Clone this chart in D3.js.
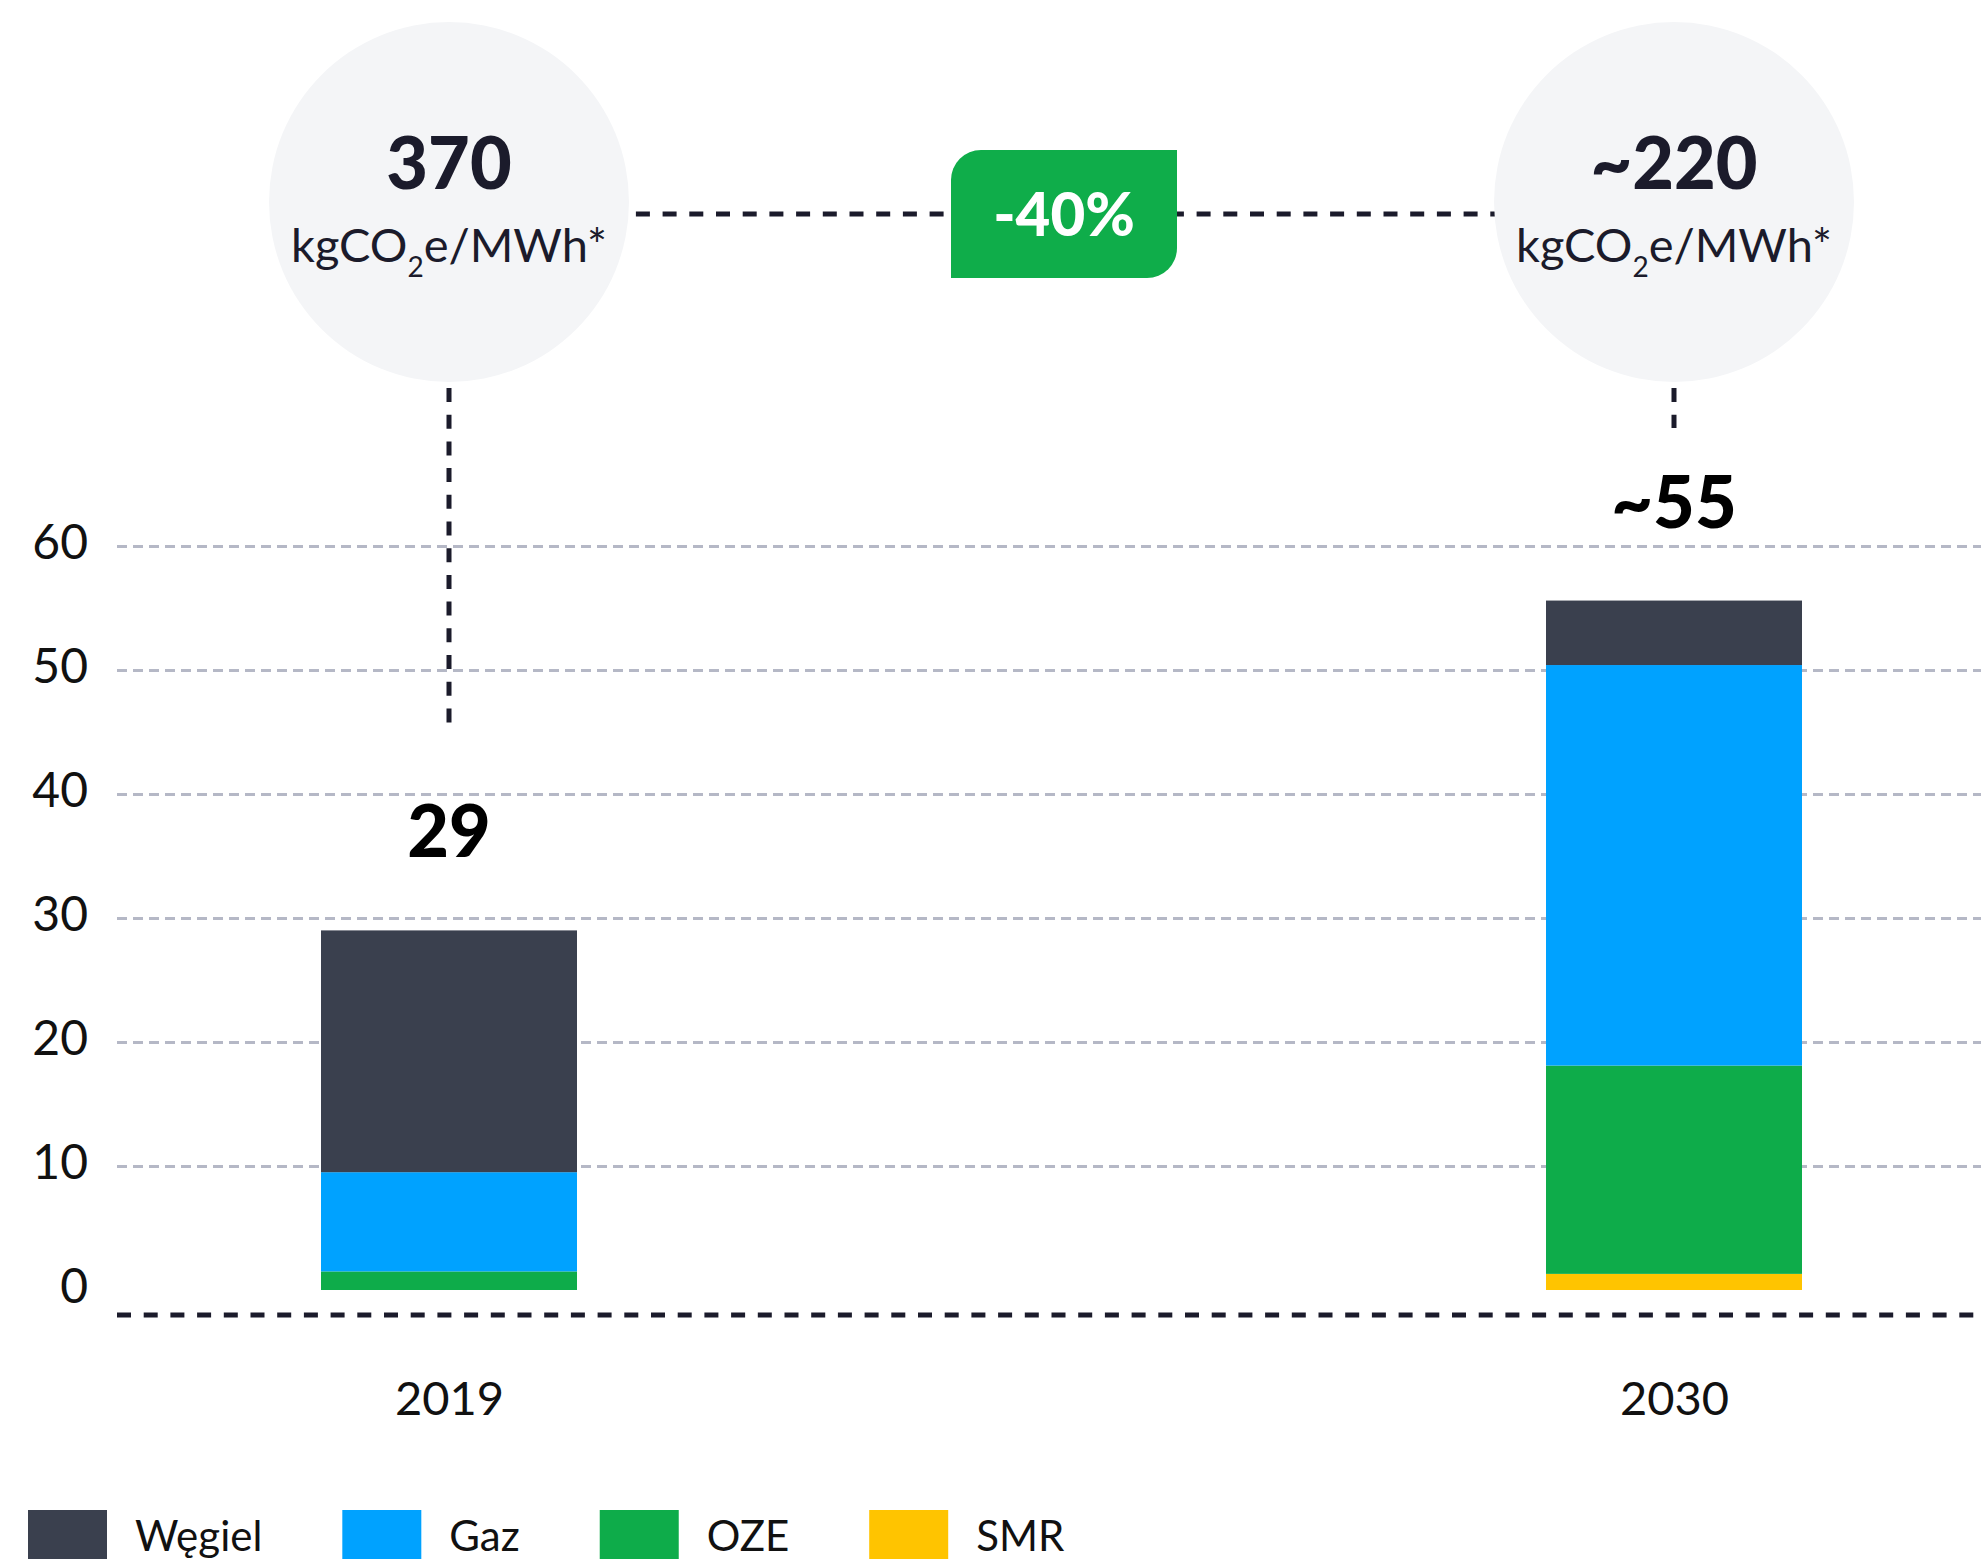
<!DOCTYPE html>
<html lang="pl">
<head>
<meta charset="utf-8">
<script src="https://cdn.jsdelivr.net/npm/d3@7"></script>
<style>
  html, body { margin: 0; background: #ffffff; }
  svg { display: block; }
  text { font-family: Lato, "Open Sans", sans-serif; }
</style>
</head>
<body>
<svg id="chart" width="1981" height="1559"></svg>
<script>
// ---- data ----
const years = ["2019", "2030"];
const stackKeys = ["SMR", "OZE", "Gaz", "Węgiel"];      // bottom → top
const legendKeys = ["Węgiel", "Gaz", "OZE", "SMR"];
const wegiel = [19.5, 5.2];
const gaz    = [8.0, 32.3];
const oze    = [1.5, 16.8];
const smr    = [0.0, 1.3];
const totalLabels = ["29", "~55"];
const intensityValues = ["370", "~220"];
const intensityUnit = ["kgCO", "2", "e/MWh*"];
const changeLabel = "-40%";
const yTicks = [0, 10, 20, 30, 40, 50, 60];

const colors = { "Węgiel": "#3a404e", "Gaz": "#00a2ff", "OZE": "#0eac4a", "SMR": "#ffc400" };

// ---- layout ----
const W = 1981, H = 1559;
const plotLeft = 117, plotRight = W;
const baselineY = 1315;
const barWidth = 256;
const circleY = 202, circleR = 180;
const connectorY = 214;
const connectorEnds = [732, 428];
const ink = "#1b1b2b";

const svg = d3.select("#chart");

const y = d3.scaleLinear().domain([0, 60]).range([1290, 546]);
const x = d3.scalePoint().domain(years).range([449, 1674]);

const rows = years.map((yr, i) => ({
  year: yr, "Węgiel": wegiel[i], "Gaz": gaz[i], "OZE": oze[i], "SMR": smr[i]
}));
const series = d3.stack().keys(stackKeys)(rows);

// ---- y axis with dashed gridlines ----
const yAxis = d3.axisLeft(y)
  .tickValues(yTicks)
  .tickSize(-(plotRight - plotLeft))
  .tickPadding(29)
  .tickFormat(d3.format("d"));

svg.append("g")
  .attr("transform", `translate(${plotLeft},0)`)
  .call(yAxis)
  .call(g => g.select(".domain").remove())
  .call(g => g.selectAll(".tick line")
    .attr("stroke", "#b5b8c6")
    .attr("stroke-width", 3)
    .attr("stroke-dasharray", "10 6")
    .filter(d => d === 0).remove())
  .call(g => g.selectAll(".tick text")
    .attr("font-family", "Lato, sans-serif")
    .attr("font-size", 48)
    .attr("fill", "#111")
    .attr("dy", "0.25em"));

// ---- stacked bars ----
svg.append("g")
  .selectAll("g")
  .data(series)
  .join("g")
  .attr("fill", d => colors[d.key])
  .selectAll("rect")
  .data(d => d)
  .join("rect")
  .attr("x", d => x(d.data.year) - barWidth / 2)
  .attr("width", barWidth)
  .attr("y", d => y(d[1]))
  .attr("height", d => y(d[0]) - y(d[1]));

// ---- baseline ----
svg.append("line")
  .attr("x1", plotLeft).attr("x2", plotRight)
  .attr("y1", baselineY).attr("y2", baselineY)
  .attr("stroke", ink).attr("stroke-width", 5)
  .attr("stroke-dasharray", "14 12.7");

// ---- x axis labels ----
svg.append("g")
  .attr("transform", `translate(0,${baselineY})`)
  .call(d3.axisBottom(x).tickSize(0))
  .call(g => g.select(".domain").remove())
  .call(g => g.selectAll(".tick text")
    .attr("font-family", "Lato, sans-serif")
    .attr("font-size", 47)
    .attr("fill", "#111")
    .attr("dy", null)
    .attr("y", 100));

// ---- totals above bars ----
const totals = rows.map(r => stackKeys.reduce((s, k) => s + r[k], 0));
svg.append("g")
  .selectAll("text")
  .data(years)
  .join("text")
  .attr("x", d => x(d))
  .attr("y", (d, i) => y(totals[i]) - 73)
  .attr("text-anchor", "middle")
  .attr("font-size", 72)
  .attr("font-weight", 900)
  .attr("fill", "#000")
  .text((d, i) => totalLabels[i]);

// ---- connectors ----
const conn = svg.append("g")
  .attr("stroke", ink).attr("stroke-width", 5)
  .attr("stroke-dasharray", "14 12.7");

conn.append("line")
  .attr("x1", x(years[0])).attr("x2", x(years[1]))
  .attr("y1", connectorY).attr("y2", connectorY);

conn.selectAll("line.v")
  .data(years)
  .join("line")
  .attr("class", "v")
  .attr("x1", d => x(d)).attr("x2", d => x(d))
  .attr("y1", circleY + circleR + 6)
  .attr("y2", (d, i) => connectorEnds[i]);

// ---- intensity bubbles ----
const bubbles = svg.append("g")
  .selectAll("g")
  .data(years)
  .join("g")
  .attr("transform", d => `translate(${x(d)},${circleY})`);

bubbles.append("circle")
  .attr("r", circleR)
  .attr("fill", "#f4f5f7");

bubbles.append("text")
  .attr("y", -13)
  .attr("text-anchor", "middle")
  .attr("font-size", 72)
  .attr("font-weight", 900)
  .attr("fill", ink)
  .text((d, i) => intensityValues[i]);

const unit = bubbles.append("text")
  .attr("y", 60)
  .attr("text-anchor", "middle")
  .attr("font-size", 47)
  .attr("fill", ink);
unit.append("tspan").text(intensityUnit[0]);
unit.append("tspan").attr("font-size", 28).attr("dy", 15).text(intensityUnit[1]);
unit.append("tspan").attr("dy", -15).text(intensityUnit[2]);

// ---- change badge ----
const bx0 = 951, bx1 = 1177, by0 = 150, by1 = 278, br = 30;
const badge = svg.append("g");
badge.append("path")
  .attr("d", `M${bx0},${by0 + br} A${br},${br} 0 0 1 ${bx0 + br},${by0} L${bx1},${by0} L${bx1},${by1 - br} A${br},${br} 0 0 1 ${bx1 - br},${by1} L${bx0},${by1} Z`)
  .attr("fill", "#0fad4a");
badge.append("text")
  .attr("x", (bx0 + bx1) / 2)
  .attr("y", 236)
  .attr("text-anchor", "middle")
  .attr("font-size", 60)
  .attr("font-weight", 900)
  .attr("fill", "#ffffff")
  .text(changeLabel);

// ---- legend ----
const legend = svg.append("g");
let lx = 28;
legendKeys.forEach(k => {
  legend.append("rect")
    .attr("x", lx).attr("y", 1510)
    .attr("width", 79).attr("height", 79)
    .attr("fill", colors[k]);
  const t = legend.append("text")
    .attr("x", lx + 107).attr("y", 1551)
    .attr("font-size", 42)
    .attr("fill", "#111")
    .text(k);
  lx += 107 + t.node().getComputedTextLength() + 80;
});
</script>
</body>
</html>
